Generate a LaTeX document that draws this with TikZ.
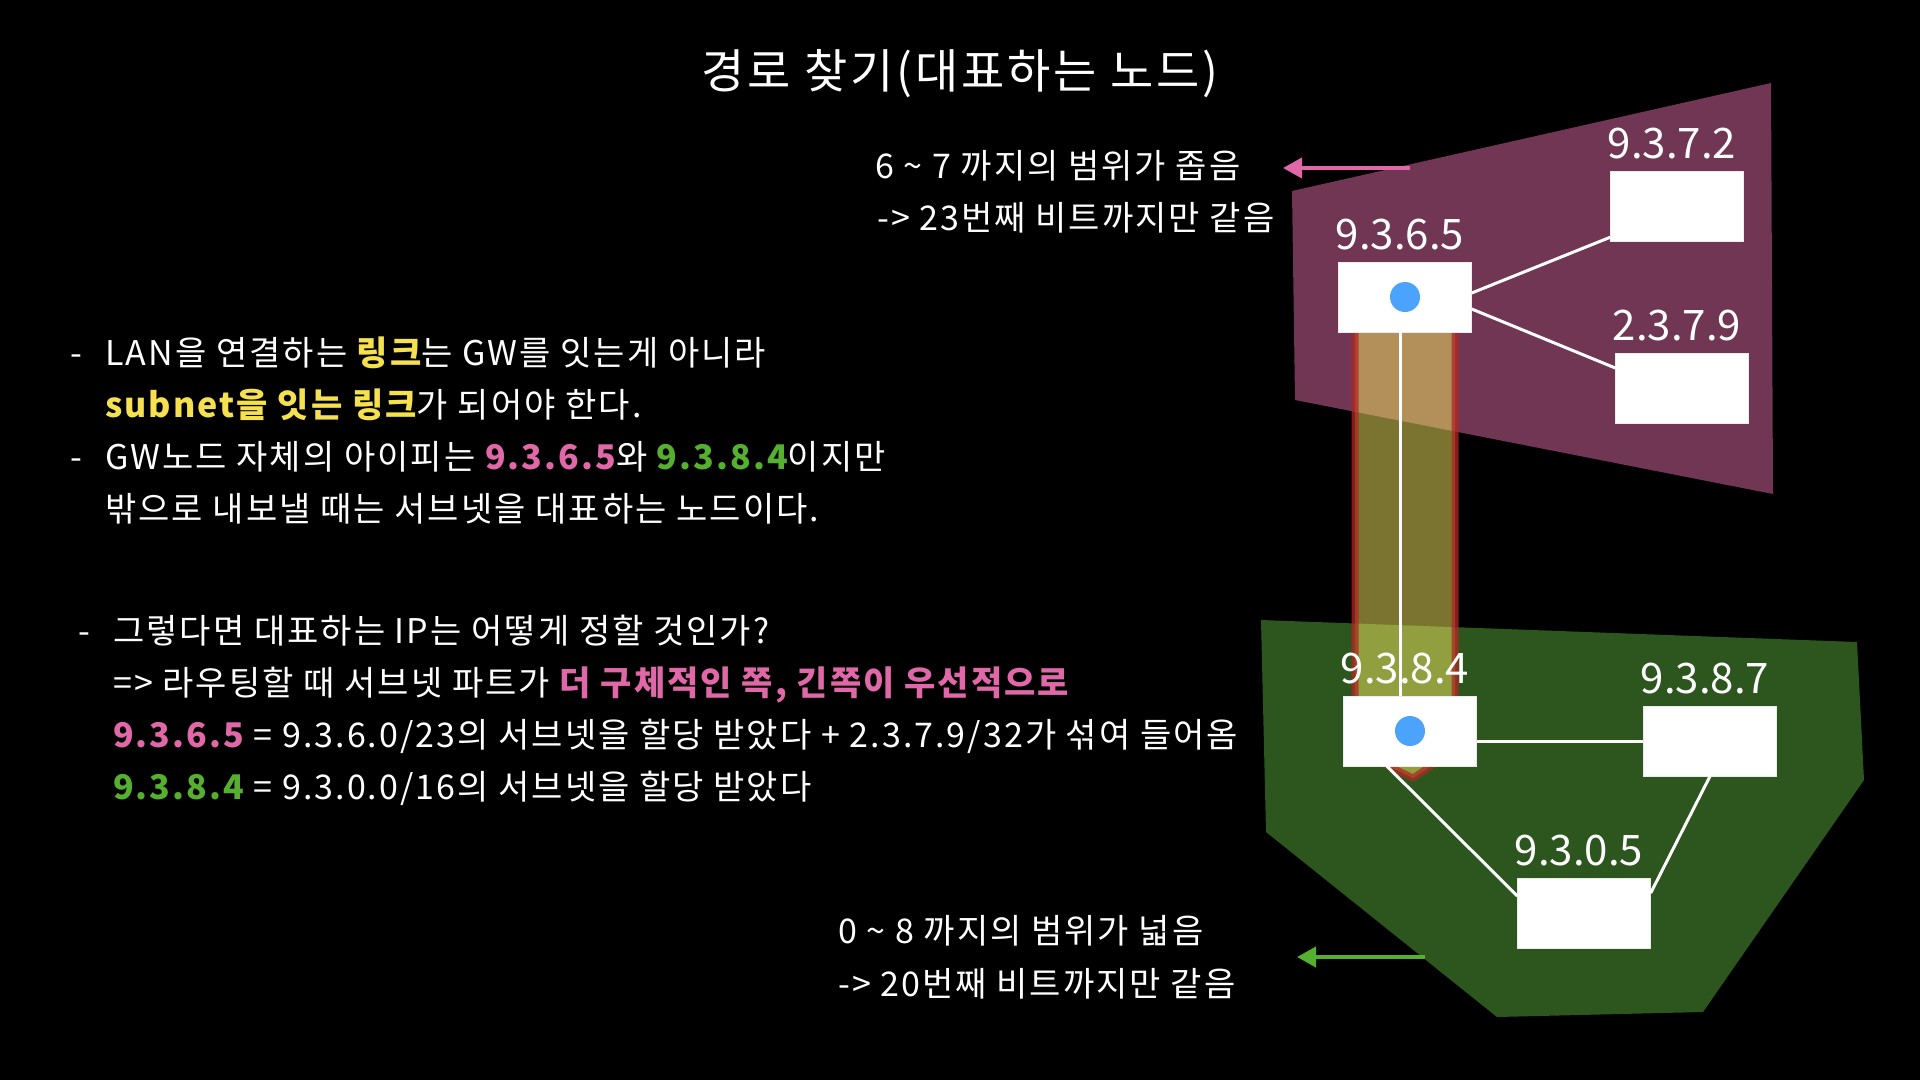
\documentclass[tikz,border=0pt]{standalone}
\usepackage{fontspec}
\setmainfont{Noto Sans CJK KR}[LetterSpace=6]
\newfontfamily\addrfont{Noto Sans CJK KR}
\usetikzlibrary{arrows.meta}

\definecolor{subnetA}{RGB}{112,54,84}
\definecolor{subnetB}{RGB}{44,86,30}
\definecolor{hlpink}{RGB}{224,104,168}
\definecolor{hlgreen}{RGB}{86,176,48}
\definecolor{hlyellow}{RGB}{245,224,80}
\definecolor{gwblue}{RGB}{75,163,251}
\definecolor{bandyellow}{RGB}{246,232,96}
\definecolor{bandred}{RGB}{175,40,35}

\newcommand{\yb}[1]{{\bfseries\color{hlyellow}#1}}
\newcommand{\pb}[1]{{\bfseries\color{hlpink}#1}}
\newcommand{\gb}[1]{{\bfseries\color{hlgreen}#1}}
\newcommand{\lead}{\makebox[35pt][l]{-}}

\begin{document}
\begin{tikzpicture}[x=1pt, y=-1pt,
    host/.style={draw=white!85!gray, fill=white, minimum width=133pt,
      minimum height=70pt, inner sep=0pt},
    lbl/.style={font=\addrfont\fontsize{42}{46}\selectfont, text=white,
      inner sep=0pt, xshift=-5pt},
    body/.style={anchor=base west, font=\fontsize{34}{40}\selectfont,
      text=white, inner sep=0pt},
    link/.style={draw=white, line width=3pt},
    gw/.style={circle, fill=gwblue, minimum size=30pt, inner sep=0pt},
    >={Triangle[length=19pt, width=20pt]}]

  \fill[black] (0,0) rectangle (1920,1080);
  \useasboundingbox (0,0) rectangle (1920,1080);

  \node[anchor=base, font=\fontsize{47}{52}\selectfont, text=white]
    (title) at (960,88) {경로 찾기(대표하는 노드)};

  % the two subnets
  \fill[subnetA] (1292,191) -- (1771,83) -- (1773,494) -- (1295,400) -- cycle;
  \fill[subnetB] (1261,620) -- (1857,642) -- (1864,780) -- (1703,1012)
    -- (1497,1017) -- (1266,832) -- cycle;

  % link between the subnets
  \filldraw[fill=bandyellow, fill opacity=0.5, draw=bandred, draw opacity=0.75,
    line width=7pt, line join=round]
    (1355,300) -- (1455,300) -- (1455,750) -- (1413,778) -- (1355,750) -- cycle;

  \node[host, label={[lbl, label distance=12pt]above:9.3.6.5}] (n9365) at (1405,297) {};
  \node[host, label={[lbl, label distance=12pt]above:9.3.7.2}] (n9372) at (1677,206) {};
  \node[host, label={[lbl, label distance=12pt]above:2.3.7.9}] (n2379) at (1682,388) {};
  \node[host, label={[lbl, label distance=12pt]above:9.3.8.4}] (n9384) at (1410,731) {};
  \node[host, label={[lbl, label distance=12pt]above:9.3.8.7}] (n9387) at (1710,741) {};
  \node[host, label={[lbl, label distance=12pt]above:9.3.0.5}] (n9305) at (1584,913) {};

  \node[gw] (gw1) at (n9365.center) {};
  \node[gw] (gw2) at (n9384.center) {};

  \draw[link] ([yshift=4pt]n9365.east) -- ([yshift=4pt]n9372.south west);
  \draw[link] ([yshift=-12pt]n9365.east) -- ([yshift=20pt]n2379.west);
  \draw[link] ([xshift=-5pt]n9365.south) -- ([xshift=-10pt]n9384.north);
  \draw[link] (n9387.west -| n9384.east) -- (n9387.west);
  \draw[link] ([xshift=-23pt]n9384.south) -- ([yshift=17pt]n9305.west);
  \draw[link] (n9387.south) -- ([yshift=20pt]n9305.east);

  % notes on the ranges
  \node[body] (narrow1) at (875,178) {6 \char`\~{} 7 까지의 범위가 좁음};
  \node[body] (narrow2) at (877,230) {-> 23번째 비트까지만 같음};
  \node[body] (wide1) at (838,943) {0 \char`\~{} 8 까지의 범위가 넓음};
  \node[body] (wide2) at (838,996) {-> 20번째 비트까지만 같음};

  \coordinate (pinktail) at (1410,168);
  \coordinate (pinktip) at (1283,168);
  \coordinate (greentail) at (1425,957);
  \coordinate (greentip) at (1297,957);
  \draw[->, draw=hlpink, fill=hlpink, line width=4pt] (pinktail) -- (pinktip);
  \draw[->, draw=hlgreen, fill=hlgreen, line width=4pt] (greentail) -- (greentip);

  % explanation
  \node[body] (t1) at (70,365) {\lead LAN을 연결하는 \yb{링크}는 GW를 잇는게 아니라};
  \node[body] (t2) at (105,417) {\yb{subnet을 잇는 링크}가 되어야 한다.};
  \node[body] (t3) at (70,469) {\lead GW노드 자체의 아이피는 \pb{9.3.6.5}와 \gb{9.3.8.4}이지만};
  \node[body] (t4) at (105,521) {밖으로 내보낼 때는 서브넷을 대표하는 노드이다.};

  \node[body] (q1) at (78,643) {\lead 그렇다면 대표하는 IP는 어떻게 정할 것인가?};
  \node[body] (q2) at (113,695) {=> 라우팅할 때 서브넷 파트가 \pb{더 구체적인 쪽, 긴쪽이 우선적으로}};
  \node[body] (q3) at (113,747) {\pb{9.3.6.5} = 9.3.6.0/23의 서브넷을 할당 받았다 + 2.3.7.9/32가 섞여 들어옴};
  \node[body] (q4) at (113,799) {\gb{9.3.8.4} = 9.3.0.0/16의 서브넷을 할당 받았다};

\end{tikzpicture}
\end{document}
